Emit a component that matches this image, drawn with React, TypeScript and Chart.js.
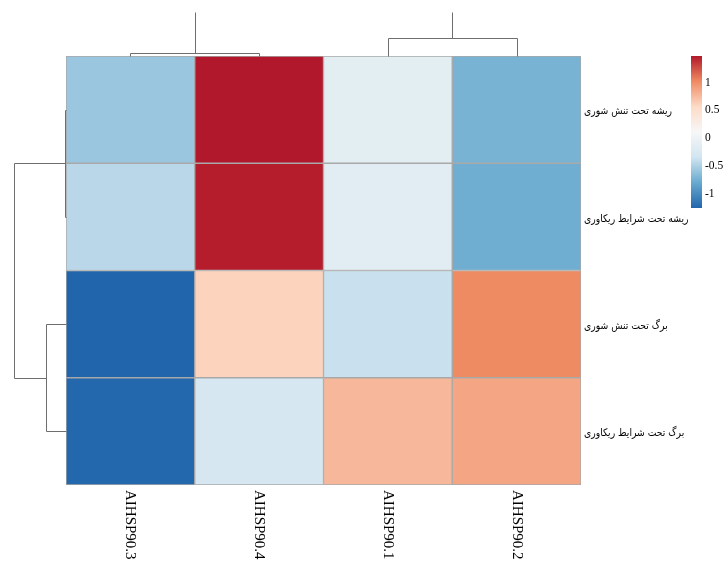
import React, { useEffect, useRef } from "react";
import { Chart, registerables } from "chart.js";

Chart.register(...registerables);

const columns = ["AIHSP90.3", "AIHSP90.4", "AIHSP90.1", "AIHSP90.2"];
const rowLabels = [
  "ریشه تحت تنش شوری",
  "ریشه تحت شرایط ریکاوری",
  "برگ تحت تنش شوری",
  "برگ تحت شرایط ریکاوری",
];
const rootSalt = [-0.58, 1.48, -0.13, -0.73];
const rootRecovery = [-0.45, 1.46, -0.16, -0.77];
const leafSalt = [-1.26, 0.61, -0.38, 1.02];
const leafRecovery = [-1.25, -0.29, 0.77, 0.87];
const rowValues = [rootSalt, rootRecovery, leafSalt, leafRecovery];

const legendTicks = [1, 0.5, 0, -0.5, -1];
const palette = ["#2166ac", "#67a9cf", "#d1e5f0", "#f7f7f7", "#fddbc7", "#ef8a62", "#b2182b"];
const colorMin = -1.26;
const colorMax = 1.48;

// dendrogram merge heights (relative, root = 1)
const colMergeLeft = 0.07; // cols 0,1
const colMergeRight = 0.41; // cols 2,3
const colRoot = 1;
const rowMergeTop = 0.01; // rows 0,1
const rowMergeBottom = 0.38; // rows 2,3
const rowRoot = 1;

function hexToRgb(h: string) {
  const n = parseInt(h.slice(1), 16);
  return [(n >> 16) & 255, (n >> 8) & 255, n & 255];
}
function colorFor(v: number) {
  let t = (v - colorMin) / (colorMax - colorMin);
  t = Math.max(0, Math.min(1, t));
  const seg = t * (palette.length - 1);
  const i = Math.min(palette.length - 2, Math.floor(seg));
  const f = seg - i;
  const a = hexToRgb(palette[i]);
  const b = hexToRgb(palette[i + 1]);
  const c = a.map((x, k) => Math.round(x + (b[k] - x) * f));
  return `rgb(${c[0]},${c[1]},${c[2]})`;
}

const extrasPlugin = {
  id: "heatExtras",
  afterDraw(chart: any) {
    const ctx = chart.ctx as CanvasRenderingContext2D;
    const area = chart.chartArea;
    const xs = chart.scales.x;
    const ys = chart.scales.y;
    const n = rowLabels.length;
    const colX = (i: number) => xs.getPixelForValue(i);
    const rowY = (i: number) => ys.getPixelForValue(n - i - 0.5);
    ctx.save();
    ctx.lineWidth = 1;
    ctx.strokeStyle = "#6e6e6e";

    // top dendrogram
    const topH = 44;
    const hy = (h: number) => area.top - h * topH;
    const line = (pts: number[][]) => {
      ctx.beginPath();
      ctx.moveTo(Math.round(pts[0][0]) + 0.5, Math.round(pts[0][1]) + 0.5);
      for (let k = 1; k < pts.length; k++) ctx.lineTo(Math.round(pts[k][0]) + 0.5, Math.round(pts[k][1]) + 0.5);
      ctx.stroke();
    };
    line([[colX(0), area.top], [colX(0), hy(colMergeLeft)], [colX(1), hy(colMergeLeft)], [colX(1), area.top]]);
    line([[(colX(0) + colX(1)) / 2, hy(colMergeLeft)], [(colX(0) + colX(1)) / 2, hy(colRoot)]]);
    line([[colX(2), area.top], [colX(2), hy(colMergeRight)], [colX(3), hy(colMergeRight)], [colX(3), area.top]]);
    line([[(colX(2) + colX(3)) / 2, hy(colMergeRight)], [(colX(2) + colX(3)) / 2, hy(colRoot)]]);

    // left dendrogram
    const leftW = 52;
    const hx = (h: number) => area.left - h * leftW;
    line([[area.left, rowY(0)], [hx(rowMergeTop), rowY(0)], [hx(rowMergeTop), rowY(1)], [area.left, rowY(1)]]);
    line([[area.left, rowY(2)], [hx(rowMergeBottom), rowY(2)], [hx(rowMergeBottom), rowY(3)], [area.left, rowY(3)]]);
    const m01 = (rowY(0) + rowY(1)) / 2;
    const m23 = (rowY(2) + rowY(3)) / 2;
    line([[hx(rowMergeTop), m01], [hx(rowRoot), m01], [hx(rowRoot), m23], [hx(rowMergeBottom), m23]]);

    // row labels
    ctx.fillStyle = "#000";
    ctx.font = "10.5px 'DejaVu Sans'";
    ctx.textAlign = "left";
    ctx.textBaseline = "middle";
    rowLabels.forEach((l, i) => {
      ctx.save();
      ctx.translate(area.right + 3, rowY(i) + 2);
      ctx.scale(0.88, 1);
      ctx.fillText(l, 0, 0);
      ctx.restore();
    });

    // column labels rotated
    ctx.font = "15px 'Liberation Serif'";
    columns.forEach((c, i) => {
      ctx.save();
      ctx.translate(colX(i), area.bottom + 5);
      ctx.rotate(Math.PI / 2);
      ctx.textAlign = "left";
      ctx.textBaseline = "middle";
      ctx.fillText(c, 0, 0);
      ctx.restore();
    });

    // color bar
    const cbX = 691, cbW = 11, cbTop = area.top, cbBot = 208;
    const grad = ctx.createLinearGradient(0, cbBot, 0, cbTop);
    palette.forEach((p, i) => grad.addColorStop(i / (palette.length - 1), p));
    ctx.fillStyle = grad;
    ctx.fillRect(cbX, cbTop, cbW, cbBot - cbTop);
    ctx.fillStyle = "#000";
    ctx.font = "11.5px 'Liberation Serif'";
    ctx.textBaseline = "middle";
    legendTicks.forEach((t) => {
      const y = cbBot - ((t - colorMin) / (colorMax - colorMin)) * (cbBot - cbTop);
      ctx.fillText(String(t), cbX + cbW + 3, y);
    });
    ctx.restore();
  },
};

export default function App() {
  const ref = useRef<HTMLCanvasElement>(null);
  useEffect(() => {
    document.body.style.margin = "0";
    const n = rowLabels.length;
    const datasets = [];
    for (let r = n - 1; r >= 0; r--) {
      datasets.push({
        label: rowLabels[r],
        data: columns.map(() => 1),
        backgroundColor: rowValues[r].map(colorFor),
        borderColor: "#a9a9a9",
        borderWidth: 1,
        borderSkipped: false,
        barPercentage: 1,
        categoryPercentage: 1,
      });
    }
    const chart = new Chart(ref.current!, {
      type: "bar",
      data: { labels: columns, datasets: datasets as any },
      options: {
        animation: false,
        responsive: false,
        devicePixelRatio: 1,
        layout: { padding: { left: 66, top: 56, right: 142, bottom: 79 } },
        plugins: { legend: { display: false }, tooltip: { enabled: false } },
        scales: {
          x: { display: false, stacked: true },
          y: { display: false, stacked: true, min: 0, max: n },
        },
      },
      plugins: [extrasPlugin],
    });
    return () => chart.destroy();
  }, []);
  return <canvas ref={ref} width={723} height={564} style={{ display: "block" }} />;
}
